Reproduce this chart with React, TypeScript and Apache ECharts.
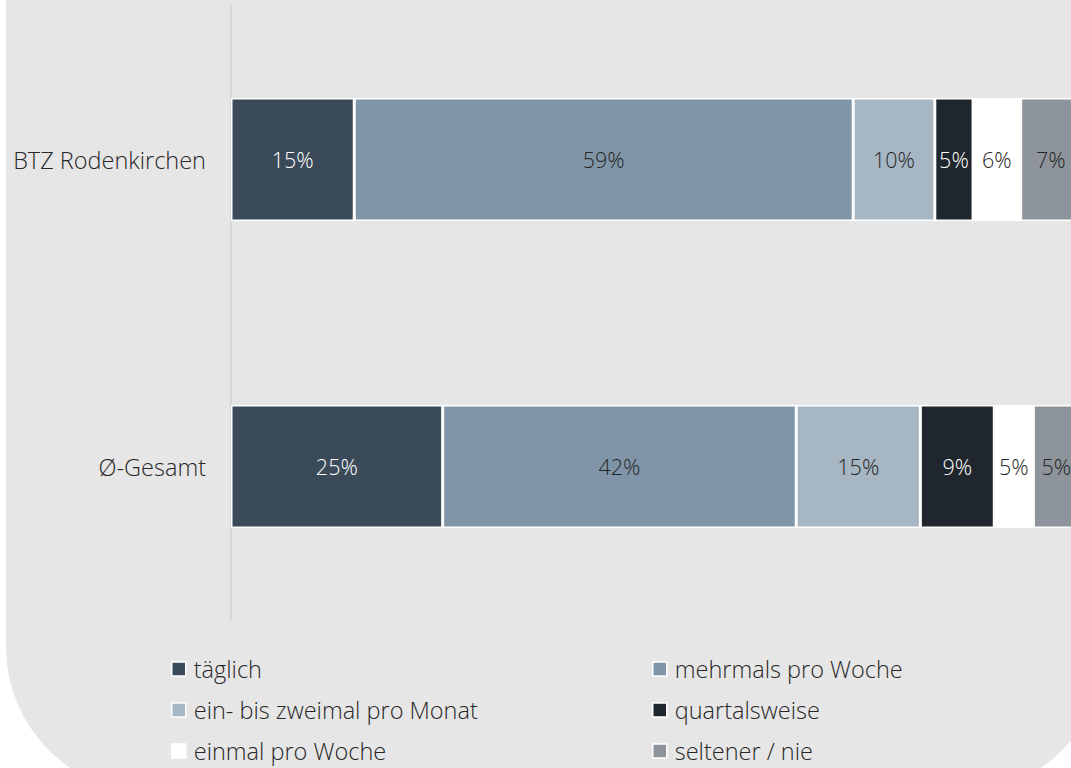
import React, { useEffect, useRef } from "react";
import * as echarts from "echarts";

const categories = ["BTZ Rodenkirchen", "Ø-Gesamt"];
const seriesNames = [
  "täglich",
  "mehrmals pro Woche",
  "ein- bis zweimal pro Monat",
  "quartalsweise",
  "einmal pro Woche",
  "seltener / nie",
];
// shares in % (labels show them rounded)
const taeglich = [14.5, 24.9];
const mehrmals = [58.7, 41.6];
const einBisZwei = [9.6, 14.6];
const quartalsweise = [4.5, 8.7];
const einmalWoche = [5.6, 4.6];
const seltener = [7.1, 5.4];

const seriesValues = [taeglich, mehrmals, einBisZwei, quartalsweise, einmalWoche, seltener];
const seriesColors = ["#3b4a58", "#8096a8", "#a7b6c3", "#1f262d", "#ffffff", "#8e949b"];
const labelColors = ["#ffffff", "#262626", "#262626", "#ffffff", "#262626", "#262626"];

// legend layout: column (0 = left, 1 = right) and row for each series
const legendCol = [0, 1, 0, 1, 0, 1];
const legendRow = [0, 0, 1, 1, 2, 2];

const FONT = "'Open Sans', 'Noto Sans', sans-serif";
const FS_LABEL = 21.5;
const FS_TEXT = 23.5;

export default function App() {
  const ref = useRef<HTMLDivElement>(null);
  useEffect(() => {
    if (!ref.current) return;
    const chart = echarts.init(ref.current, null, { renderer: "svg" });
    const series = seriesNames.map((name, i) => ({
      name,
      type: "bar",
      stack: "total",
      barWidth: 123,
      data: seriesValues[i],
      itemStyle: { color: seriesColors[i], borderColor: "#ffffff", borderWidth: 1.5 },
      label: {
        show: true,
        position: "inside",
        formatter: (p: any) => Math.round(p.value) + "%",
        color: labelColors[i],
        fontSize: FS_LABEL,
        fontWeight: 300,
        fontFamily: FONT,
      },
    }));
    const legends = seriesNames.map((name, i) => ({
      orient: "horizontal",
      left: legendCol[i] === 0 ? 171 : 652,
      top: 657 + legendRow[i] * 41,
      padding: 0,
      icon: "rect",
      itemWidth: 14,
      itemHeight: 14,
      itemStyle: { borderColor: "#ffffff", borderWidth: 1.5 },
      textStyle: {
        fontSize: FS_TEXT,
        fontWeight: 300,
        color: "#262626",
        fontFamily: FONT,
        lineHeight: 22,
        padding: [0, 0, 0, 3],
      },
      selectedMode: false,
      data: [name],
    }));
    chart.setOption({
      animation: false,
      backgroundColor: "#ffffff",
      graphic: [
        {
          type: "rect",
          z: -10,
          silent: true,
          shape: { x: 6, y: -200, width: 1099, height: 993, r: 146 },
          style: { fill: "#e6e6e6" },
        },
      ],
      grid: { left: 231, top: 6, height: 614, width: 850, outerBoundsMode: "none", containLabel: false },
      xAxis: {
        type: "value",
        min: 0,
        max: 100,
        show: false,
        splitLine: { show: false },
      },
      yAxis: {
        type: "category",
        inverse: true,
        data: categories,
        axisLine: { show: true, lineStyle: { color: "#d6d6d6", width: 2 } },
        axisTick: { show: false },
        axisLabel: { fontSize: FS_TEXT, fontWeight: 300, color: "#262626", fontFamily: FONT, margin: 25 },
      },
      legend: legends,
      series,
    });
    return () => chart.dispose();
  }, []);
  return (
    <div
      ref={ref}
      style={{ position: "absolute", left: 0, top: 0, width: 1071, height: 768 }}
    />
  );
}
